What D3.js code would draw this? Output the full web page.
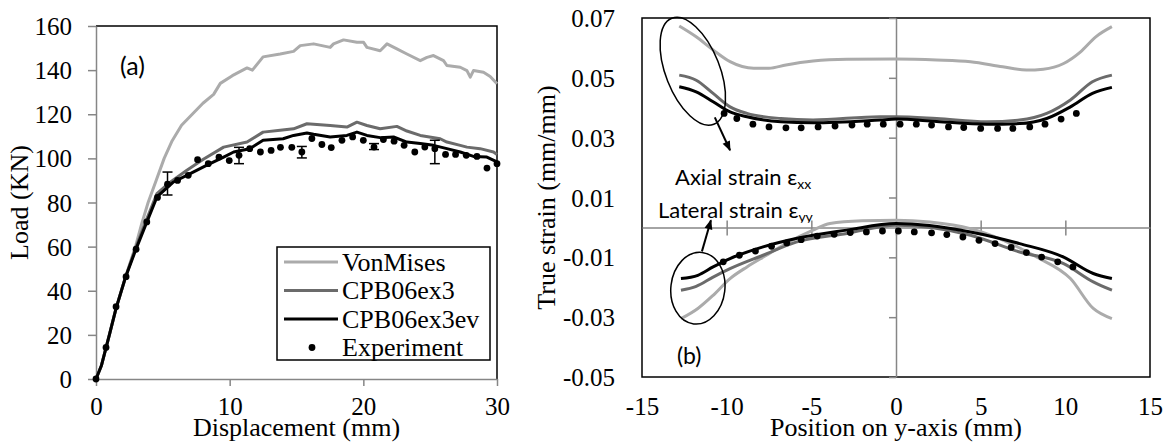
<!DOCTYPE html>
<html>
<head>
  <meta charset="utf-8">
  <title>Load-displacement and true strain profiles</title>
  <script src="https://d3js.org/d3.v7.min.js"></script>
  <style type="text/css">
    body { margin: 0; background: #fff; }
    svg { display: block; }
  </style>
</head>
<body>
  <svg id="chart" width="1172" height="445"></svg>
  <script type="text/javascript">
    // ---- (a) load vs displacement ----
    const dispTicks = [0, 10, 20, 30];
    const loadTicks = [0, 20, 40, 60, 80, 100, 120, 140, 160];

    const loadVonMises = [
      [0, 0], [0.4, 6], [1, 20], [1.5, 32], [2.2, 46], [3, 61], [3.4, 70], [3.9, 80],
      [4.5, 90], [5.1, 100], [5.7, 108], [6.4, 115], [7.2, 120], [8, 125], [8.8, 129],
      [9.3, 134], [10.2, 137.5], [11.3, 141], [11.7, 140], [12.5, 146], [13.78, 147.3],
      [14.78, 148.5], [15.28, 151.1], [16.28, 151.9], [17.52, 150.3], [17.77, 151.9],
      [18.52, 153.7], [19.52, 152.6], [20.02, 152.6], [20.27, 150.3], [21.26, 148.8],
      [21.77, 151.9], [22.51, 149.6], [23.26, 147.3], [24.26, 144.3], [24.76, 145.8],
      [25.25, 146.6], [26.0, 144.3], [26.25, 142.1], [27.25, 141.3], [27.75, 139.8],
      [28.0, 136.8], [28.24, 139.8], [28.99, 139.0], [29.49, 137.1], [30.0, 133.8]
    ];
    const loadCPB06ex3 = [
      [0, 0], [0.4, 6], [1, 20], [1.5, 32], [2.2, 46], [3, 60], [3.7, 71], [4.56, 84],
      [5.5, 89], [6.8, 94.6], [8, 99.5], [9.55, 105.1], [11.3, 107.4], [12.5, 111.9],
      [13.78, 112.7], [14.78, 113.4], [15.78, 115.7], [17.52, 114.9], [18.77, 114.2],
      [19.52, 116.4], [20.27, 114.9], [21.26, 113.4], [22.51, 114.5], [23.26, 112.4],
      [24.26, 110.4], [25.75, 108.9], [26.25, 107.4], [27.25, 105.9], [27.75, 105.1],
      [28.74, 104.4], [29.74, 102.9], [30.0, 101.8]
    ];
    const loadCPB06ex3ev = [
      [0, 0], [0.4, 6], [1, 20], [1.5, 32], [2.2, 46], [3, 59], [3.56, 67.5], [4.56, 82.5],
      [5.8, 89.3], [7.05, 93.1], [8.3, 96.9], [9.55, 100.6], [10.3, 102.9], [11.5, 104.4],
      [12.5, 108.2], [14.0, 108.9], [14.78, 110.4], [15.78, 111.5], [16.28, 110.9],
      [17.52, 109.7], [18.77, 110.4], [19.52, 111.9], [20.27, 110.4], [21.26, 109.4],
      [22.26, 109.7], [23.26, 107.4], [24.26, 106.7], [25.25, 105.9], [26.25, 104.4],
      [27.25, 102.9], [28.24, 100.9], [29.24, 100.6], [30.0, 98.4]
    ];
    const expDisp = [0, 0.75, 1.5, 2.25, 3.0, 3.8, 4.6, 5.35, 6.1, 6.9, 7.6, 8.4, 9.2, 9.97,
      10.7, 11.5, 12.3, 13.1, 13.8, 14.65, 15.4, 16.15, 16.9, 17.6, 18.4, 19.2, 20.0, 20.8,
      21.5, 22.3, 23.05, 23.85, 24.6, 25.35, 26.15, 26.9, 27.7, 28.5, 29.25, 30.0];
    const expLoad = [0, 14.3, 32.8, 46.4, 58.8, 71.2, 82.3, 88.3, 90, 92.3, 99.4, 97.6, 100.6,
      99, 101.4, 104.4, 102.9, 103.6, 105, 105, 102.9, 109, 106.3, 104.9, 108.2, 109.7, 108.2,
      105.1, 108.5, 107.8, 105.9, 102.9, 105.1, 104.4, 101.8, 101.8, 101.4, 100.9, 95.6, 97.6];
    // [displacement, low, high]
    const expErrorBars = [[5.35, 83.4, 93.8], [10.7, 97.6, 105], [15.4, 100.2, 105.4],
      [20.8, 104, 106.7], [25.35, 97.6, 108.2]];

    // ---- (b) true strain vs position ----
    const posTicks = [-15, -10, -5, 0, 5, 10, 15];
    const strainTicks = [-0.05, -0.03, -0.01, 0.01, 0.03, 0.05, 0.07];

    const axialVonMises = [
      [-12.8, 0.0673], [-11.8, 0.0637], [-10.8, 0.0593], [-9.8, 0.0554], [-8.4, 0.0532],
      [-7.5, 0.0532], [-6.5, 0.0543], [-4.9, 0.0556], [-2.9, 0.0562], [0, 0.0563],
      [2.4, 0.056], [4.4, 0.0554], [6.3, 0.0537], [7.7, 0.0526], [8.7, 0.0529],
      [9.9, 0.0548], [10.9, 0.0587], [11.8, 0.0637], [12.75, 0.0671]
    ];
    const axialCPB06ex3 = [
      [-12.8, 0.0509], [-11.8, 0.0492], [-10.8, 0.0448], [-9.8, 0.0403], [-8.8, 0.0381],
      [-6.8, 0.0364], [-4.9, 0.0359], [-0.95, 0.037], [0, 0.037], [2.4, 0.0364],
      [5.35, 0.0353], [7.3, 0.0359], [8.9, 0.0381], [10.3, 0.0426], [11.6, 0.0487],
      [12.75, 0.0509]
    ];
    const axialCPB06ex3ev = [
      [-12.8, 0.047], [-11.8, 0.0453], [-10.8, 0.042], [-9.8, 0.0386], [-8.8, 0.037],
      [-6.8, 0.0353], [-4.9, 0.035], [-0.95, 0.0359], [0, 0.0362], [2.4, 0.0354],
      [5.35, 0.0345], [7.3, 0.0347], [8.9, 0.0364], [10.3, 0.0403], [11.6, 0.0448],
      [12.75, 0.0468]
    ];
    const axialExpPos = [-10.15, -9.4, -8.45, -7.5, -6.5, -5.6, -4.6, -3.6, -2.6, -1.7,
      -0.75, 0.24, 1.2, 2.1, 3.1, 4.0, 5.0, 6.0, 6.9, 7.9, 8.8, 9.75, 10.65];
    const axialExpStrain = [0.0381, 0.0364, 0.0345, 0.0336, 0.0333, 0.0333, 0.0336, 0.0339,
      0.0342, 0.0345, 0.0345, 0.0345, 0.0345, 0.0342, 0.0336, 0.0334, 0.0331, 0.0331,
      0.0331, 0.0336, 0.0345, 0.0362, 0.0381];

    const latVonMises = [
      [-12.7, -0.0305], [-11.7, -0.0271], [-10.8, -0.0227], [-9.8, -0.0171], [-8.8, -0.0132],
      [-7.65, -0.0093], [-6.5, -0.0054], [-4.9, -0.0009], [-3.9, 0.0013], [-2, 0.0022],
      [0, 0.0024], [2, 0.0018], [4.4, -0.0004], [6.35, -0.0043], [8.3, -0.0099],
      [10.3, -0.0171], [11.65, -0.0271], [12.75, -0.0305]
    ];
    const latCPB06ex3 = [
      [-12.7, -0.021], [-11.8, -0.0197], [-10.8, -0.0166], [-9.8, -0.0138], [-7.85, -0.0093],
      [-5.9, -0.0049], [-2.9, -0.002], [0, 0.0007], [4.4, -0.0026], [7.3, -0.0082],
      [9.9, -0.0121], [11.65, -0.0182], [12.75, -0.021]
    ];
    const latCPB06ex3ev = [
      [-12.7, -0.0171], [-11.7, -0.016], [-10.8, -0.0132], [-9.8, -0.0104], [-7.85, -0.0065],
      [-5.9, -0.0037], [-2.9, -0.0009], [0, 0.0013], [4.4, -0.0015], [7.3, -0.0054],
      [9.9, -0.0099], [11.65, -0.0154], [12.75, -0.0171]
    ];
    const latExpPos = [-10.2, -9.25, -8.3, -7.35, -6.45, -5.6, -4.65, -3.65, -2.7, -1.75,
      -0.8, 0.14, 1.08, 2.1, 3.0, 3.95, 4.9, 5.85, 6.8, 7.7, 8.6, 9.55, 10.45];
    const latExpStrain = [-0.0115, -0.0093, -0.0079, -0.0063, -0.0052, -0.0041, -0.0029,
      -0.0023, -0.0017, -0.0015, -0.0012, -0.0012, -0.0015, -0.0018, -0.0024, -0.0032,
      -0.0043, -0.0054, -0.0067, -0.0084, -0.0099, -0.0115, -0.0132];

    const seriesNames = ["VonMises", "CPB06ex3", "CPB06ex3ev", "Experiment"];
    const seriesColors = ["#ababab", "#6b6b6b", "#000000", "#000000"];

    const serif = "'Liberation Serif', 'Times New Roman', serif";
    const sans = "Lato, 'Open Sans', 'DejaVu Sans', sans-serif";
    const axisGray = "#868686";

    const svg = d3.select("#chart");

    // arrow head marker
    svg.append("defs").append("marker")
        .attr("id", "arrow")
        .attr("viewBox", "0 0 10 10")
        .attr("refX", 9).attr("refY", 5)
        .attr("markerWidth", 13).attr("markerHeight", 10)
        .attr("markerUnits", "userSpaceOnUse")
        .attr("orient", "auto")
      .append("path")
        .attr("d", "M0,1 L10,5 L0,9 Z")
        .attr("fill", "#000");

    function styleAxis(g) {
      g.attr("font-family", serif).attr("font-size", 25);
      g.selectAll(".domain").attr("stroke", axisGray).attr("stroke-width", 1.5);
      g.selectAll(".tick line").attr("stroke", axisGray).attr("stroke-width", 1.5);
      g.selectAll(".tick text")
          .attr("fill", "#000")
          .attr("font-family", serif)
          .attr("font-size", 25);
    }

    // =============== chart (a) ===============
    const xA = d3.scaleLinear().domain([0, 30]).range([96, 497]);
    const yA = d3.scaleLinear().domain([0, 160]).range([379, 26]);

    // plot area border (top and right)
    svg.append("path")
        .attr("d", `M${xA(0)},${yA(160)}H${xA(30)}V${yA(0)}`)
        .attr("fill", "none").attr("stroke", "#000").attr("stroke-width", 1.5);

    svg.append("g")
        .attr("transform", `translate(${xA(0)},0)`)
        .call(d3.axisLeft(yA).tickValues(loadTicks).tickSize(8).tickSizeOuter(0).tickPadding(16))
        .call(styleAxis)
        .call(g => g.selectAll(".tick text").attr("dy", "0.34em"));

    svg.append("g")
        .attr("transform", `translate(0,${yA(0)})`)
        .call(d3.axisBottom(xA).tickValues(dispTicks).tickSize(7).tickSizeOuter(0))
        .call(styleAxis)
        .call(g => g.selectAll(".tick text").attr("dy", null).attr("y", 36));

    svg.append("text")
        .attr("x", (xA(0) + xA(30)) / 2).attr("y", 436)
        .attr("text-anchor", "middle")
        .attr("font-family", serif).attr("font-size", 26)
        .text("Displacement (mm)");

    svg.append("text")
        .attr("transform", `translate(28,${(yA(0) + yA(160)) / 2}) rotate(-90)`)
        .attr("text-anchor", "middle")
        .attr("font-family", serif).attr("font-size", 26)
        .text("Load (KN)");

    const lineA = d3.line().x(d => xA(d[0])).y(d => yA(d[1]));
    [loadVonMises, loadCPB06ex3, loadCPB06ex3ev].forEach((s, i) => {
      svg.append("path")
          .datum(s)
          .attr("d", lineA)
          .attr("fill", "none")
          .attr("stroke", seriesColors[i])
          .attr("stroke-width", 3)
          .attr("stroke-linejoin", "round");
    });

    const errA = svg.append("g").attr("stroke", "#000").attr("stroke-width", 1.5);
    errA.selectAll("line.bar")
      .data(expErrorBars)
      .join("line")
        .attr("class", "bar")
        .attr("x1", d => xA(d[0])).attr("x2", d => xA(d[0]))
        .attr("y1", d => yA(d[1])).attr("y2", d => yA(d[2]));
    errA.selectAll("line.capLo")
      .data(expErrorBars)
      .join("line")
        .attr("class", "capLo")
        .attr("x1", d => xA(d[0]) - 5).attr("x2", d => xA(d[0]) + 5)
        .attr("y1", d => yA(d[1])).attr("y2", d => yA(d[1]));
    errA.selectAll("line.capHi")
      .data(expErrorBars)
      .join("line")
        .attr("class", "capHi")
        .attr("x1", d => xA(d[0]) - 5).attr("x2", d => xA(d[0]) + 5)
        .attr("y1", d => yA(d[2])).attr("y2", d => yA(d[2]));

    svg.append("g")
      .selectAll("circle")
      .data(expDisp.map((d, i) => [d, expLoad[i]]))
      .join("circle")
        .attr("cx", d => xA(d[0]))
        .attr("cy", d => yA(d[1]))
        .attr("r", 3.4)
        .attr("fill", "#000");

    svg.append("text")
        .attr("x", xA(1.8)).attr("y", yA(137.6))
        .attr("font-family", sans).attr("font-size", 25)
        .text("(a)");

    // legend
    const legend = svg.append("g").attr("transform", "translate(277,247)");
    legend.append("rect")
        .attr("width", 213).attr("height", 113)
        .attr("fill", "#fff").attr("stroke", "#000").attr("stroke-width", 1.5);
    seriesNames.forEach((name, i) => {
      const y = 15 + i * 28.5;
      if (i < 3) {
        legend.append("line")
            .attr("x1", 7).attr("x2", 61).attr("y1", y).attr("y2", y)
            .attr("stroke", seriesColors[i]).attr("stroke-width", 3);
      } else {
        legend.append("circle").attr("cx", 35).attr("cy", y).attr("r", 3.4).attr("fill", "#000");
      }
      legend.append("text")
          .attr("x", 65).attr("y", y).attr("dy", "0.34em")
          .attr("font-family", serif).attr("font-size", 26)
          .text(name);
    });

    // =============== chart (b) ===============
    const xB = d3.scaleLinear().domain([-15, 15]).range([642, 1150]);
    const yB = d3.scaleLinear().domain([-0.05, 0.07]).range([377, 18]);

    svg.append("rect")
        .attr("x", xB(-15)).attr("y", yB(0.07))
        .attr("width", xB(15) - xB(-15)).attr("height", yB(-0.05) - yB(0.07))
        .attr("fill", "none").attr("stroke", "#000").attr("stroke-width", 1.5);

    // horizontal axis through zero with cross ticks
    svg.append("g")
        .attr("transform", `translate(0,${yB(0)})`)
        .call(d3.axisBottom(xB).tickValues(posTicks.filter(v => Math.abs(v) < 15))
          .tickSize(8).tickSizeOuter(0).tickFormat(""))
        .call(styleAxis)
        .call(g => g.selectAll(".tick line").attr("y1", -7));

    // vertical axis through zero
    svg.append("g")
        .attr("transform", `translate(${xB(0)},0)`)
        .call(d3.axisLeft(yB).tickValues(strainTicks).tickSize(7).tickSizeOuter(0).tickFormat(""))
        .call(styleAxis);

    // tick labels at the low side
    svg.append("g")
        .attr("transform", `translate(${xB(-15)},0)`)
        .call(d3.axisLeft(yB).tickValues(strainTicks).tickSize(0).tickPadding(27)
          .tickFormat(d => d.toFixed(2)))
        .call(styleAxis)
        .call(g => g.select(".domain").remove())
        .call(g => g.selectAll(".tick text").attr("dy", "0.34em"));

    svg.append("g")
        .attr("transform", `translate(0,${yB(-0.05)})`)
        .call(d3.axisBottom(xB).tickValues(posTicks).tickSize(0).tickFormat(d => String(d)))
        .call(styleAxis)
        .call(g => g.select(".domain").remove())
        .call(g => g.selectAll(".tick text").attr("dy", null).attr("y", 38));

    svg.append("text")
        .attr("x", xB(0)).attr("y", 436)
        .attr("text-anchor", "middle")
        .attr("font-family", serif).attr("font-size", 26)
        .text("Position on y-axis (mm)");

    svg.append("text")
        .attr("transform", `translate(555,${(yB(-0.05) + yB(0.07)) / 2}) rotate(-90)`)
        .attr("text-anchor", "middle")
        .attr("font-family", serif).attr("font-size", 26)
        .text("True strain (mm/mm)");

    const lineB = d3.line().x(d => xB(d[0])).y(d => yB(d[1])).curve(d3.curveMonotoneX);
    [[axialVonMises, latVonMises], [axialCPB06ex3, latCPB06ex3], [axialCPB06ex3ev, latCPB06ex3ev]]
      .forEach((pair, i) => {
        pair.forEach(s => {
          svg.append("path")
              .datum(s)
              .attr("d", lineB)
              .attr("fill", "none")
              .attr("stroke", seriesColors[i])
              .attr("stroke-width", 3)
              .attr("stroke-linejoin", "round");
        });
      });

    svg.append("g")
      .selectAll("circle")
      .data(axialExpPos.map((d, i) => [d, axialExpStrain[i]])
        .concat(latExpPos.map((d, i) => [d, latExpStrain[i]])))
      .join("circle")
        .attr("cx", d => xB(d[0]))
        .attr("cy", d => yB(d[1]))
        .attr("r", 3.4)
        .attr("fill", "#000");

    // annotations
    const ann = svg.append("g").attr("fill", "none").attr("stroke", "#000").attr("stroke-width", 1.5);
    ann.append("ellipse")
        .attr("transform", `translate(${xB(-12.0)},${yB(0.0522)}) rotate(-21.6)`)
        .attr("rx", 27).attr("ry", 57);
    ann.append("ellipse")
        .attr("transform", `translate(${xB(-11.7)},${yB(-0.0203)}) rotate(6.7)`)
        .attr("rx", 27).attr("ry", 36);
    ann.append("line")
        .attr("x1", xB(-10.7)).attr("y1", yB(0.0368))
        .attr("x2", xB(-9.8)).attr("y2", yB(0.0258))
        .attr("stroke-width", 2)
        .attr("marker-end", "url(#arrow)");
    ann.append("line")
        .attr("x1", xB(-11.46)).attr("y1", yB(-0.008))
        .attr("x2", xB(-10.93)).attr("y2", yB(0.0024))
        .attr("stroke-width", 2)
        .attr("marker-end", "url(#arrow)");

    const t1 = svg.append("text")
        .attr("x", xB(-13.05)).attr("y", yB(0.0141))
        .attr("font-family", sans).attr("font-size", 22);
    t1.append("tspan").text("Axial strain \u03b5");
    t1.append("tspan").attr("font-size", 14).attr("dy", 4).text("xx");

    svg.append("clipPath").attr("id", "latClip")
      .append("rect")
        .attr("x", 600).attr("y", 150).attr("width", 300).attr("height", yB(0.0016) - 150);
    const t2 = svg.append("text")
        .attr("clip-path", "url(#latClip)")
        .attr("x", xB(-14.06)).attr("y", yB(0.0031))
        .attr("font-family", sans).attr("font-size", 22);
    t2.append("tspan").text("Lateral strain \u03b5");
    t2.append("tspan").attr("font-size", 14).attr("dy", 4).text("yy");

    svg.append("text")
        .attr("x", xB(-12.94)).attr("y", yB(-0.0458))
        .attr("font-family", sans).attr("font-size", 23)
        .text("(b)");
  </script>
</body>
</html>
